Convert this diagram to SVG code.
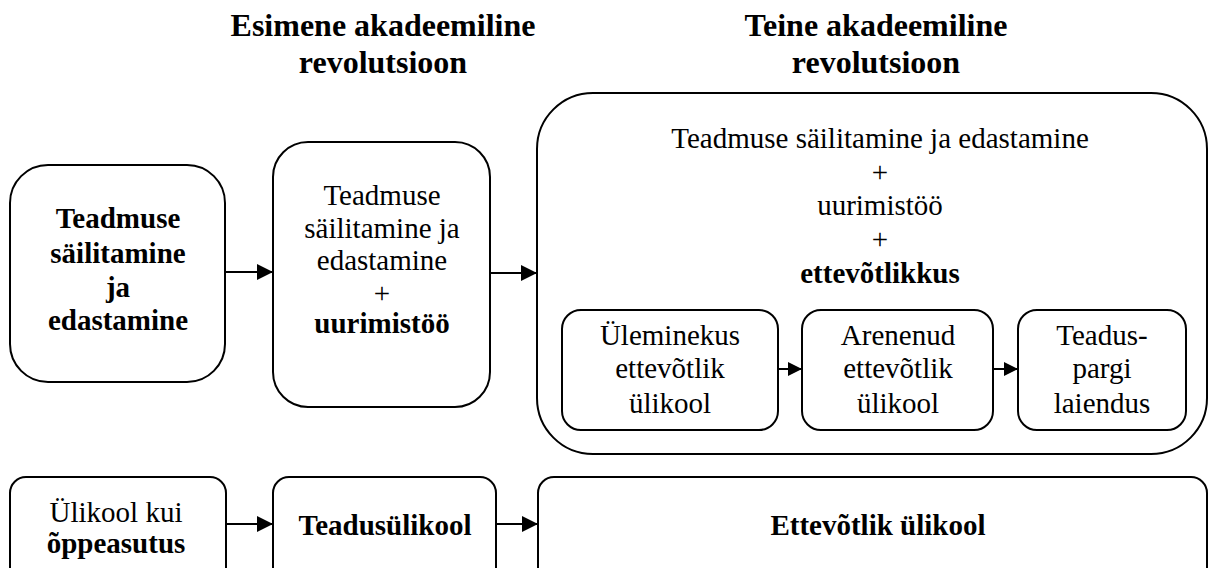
<svg xmlns="http://www.w3.org/2000/svg" width="1208" height="568" viewBox="0 0 1208 568">
  <style>
    .box { fill: #ffffff; stroke: #000000; stroke-width: 2; }
    .txt { font-family: "Liberation Serif", "Times New Roman", serif; font-size: 29px; fill: #000000; text-anchor: middle; }
    .b { font-weight: bold; }
    .title { font-family: "Liberation Serif", "Times New Roman", serif; font-size: 32px; font-weight: bold; fill: #000000; text-anchor: middle; }
    .conn { stroke: #000000; stroke-width: 2; fill: none; }
  </style>
  <defs>
    <marker id="arrow" markerUnits="userSpaceOnUse" markerWidth="16" markerHeight="16" viewBox="0 0 16 16" refX="16" refY="8" orient="auto">
      <path d="M0,0 L16,8 L0,16 Z" fill="#000000"/>
    </marker>
    <marker id="arrowSmall" markerUnits="userSpaceOnUse" markerWidth="14" markerHeight="14" viewBox="0 0 14 14" refX="14" refY="7" orient="auto">
      <path d="M0,0 L14,7 L0,14 Z" fill="#000000"/>
    </marker>
  </defs>

  <rect width="1208" height="568" fill="#ffffff"/>

  <!-- column headings -->
  <g id="heading-first">
    <text class="title" x="383" y="36">Esimene akadeemiline</text>
    <text class="title" x="383" y="73">revolutsioon</text>
  </g>
  <g id="heading-second">
    <text class="title" x="876" y="36">Teine akadeemiline</text>
    <text class="title" x="876" y="73">revolutsioon</text>
  </g>

  <!-- upper row -->
  <g id="node-knowledge">
    <rect class="box" x="10" y="165" width="215" height="217" rx="38" ry="38"/>
    <text class="txt b" x="118" y="228">Teadmuse</text>
    <text class="txt b" x="118" y="263">säilitamine</text>
    <text class="txt b" x="118" y="297">ja</text>
    <text class="txt b" x="118" y="330">edastamine</text>
  </g>

  <g id="node-research">
    <rect class="box" x="273" y="142" width="217" height="265" rx="35" ry="35"/>
    <text class="txt" x="382" y="205">Teadmuse</text>
    <text class="txt" x="382" y="238">säilitamine ja</text>
    <text class="txt" x="382" y="270">edastamine</text>
    <text class="txt" x="382" y="303">+</text>
    <text class="txt b" x="382" y="333">uurimistöö</text>
  </g>

  <g id="node-entrepreneurial">
    <rect class="box" x="537" y="93" width="670" height="361" rx="56" ry="56"/>
    <text class="txt" x="880" y="148">Teadmuse säilitamine ja edastamine</text>
    <text class="txt" x="880" y="182">+</text>
    <text class="txt" x="880" y="215">uurimistöö</text>
    <text class="txt" x="880" y="249">+</text>
    <text class="txt b" x="880" y="283">ettevõtlikkus</text>
  </g>

  <g id="node-transition">
    <rect class="box" x="562" y="310" width="216" height="120" rx="19" ry="19"/>
    <text class="txt" x="670" y="345">Üleminekus</text>
    <text class="txt" x="670" y="378">ettevõtlik</text>
    <text class="txt" x="670" y="413">ülikool</text>
  </g>

  <g id="node-advanced">
    <rect class="box" x="802" y="310" width="191" height="120" rx="19" ry="19"/>
    <text class="txt" x="898" y="345">Arenenud</text>
    <text class="txt" x="898" y="378">ettevõtlik</text>
    <text class="txt" x="898" y="413">ülikool</text>
  </g>

  <g id="node-sciencepark">
    <rect class="box" x="1018" y="310" width="168" height="120" rx="19" ry="19"/>
    <text class="txt" x="1102" y="345">Teadus-</text>
    <text class="txt" x="1102" y="378">pargi</text>
    <text class="txt" x="1102" y="413">laiendus</text>
  </g>

  <!-- lower row -->
  <g id="node-teaching">
    <rect class="box" x="10" y="477" width="216" height="110" rx="16" ry="16"/>
    <text class="txt" x="116" y="522">Ülikool kui</text>
    <text class="txt b" x="116" y="553">õppeasutus</text>
  </g>

  <g id="node-researchuni">
    <rect class="box" x="273" y="477" width="223" height="110" rx="16" ry="16"/>
    <text class="txt b" x="385" y="535">Teadusülikool</text>
  </g>

  <g id="node-entrepreneurialuni">
    <rect class="box" x="538" y="477" width="669" height="110" rx="16" ry="16"/>
    <text class="txt b" x="878" y="535">Ettevõtlik ülikool</text>
  </g>

  <!-- connectors -->
  <g id="connectors">
    <line class="conn" x1="225" y1="272" x2="273" y2="272" marker-end="url(#arrow)"/>
    <line class="conn" x1="490" y1="273" x2="537" y2="273" marker-end="url(#arrow)"/>
    <line class="conn" x1="778" y1="369" x2="802" y2="369" marker-end="url(#arrowSmall)"/>
    <line class="conn" x1="993" y1="369" x2="1018" y2="369" marker-end="url(#arrowSmall)"/>
    <line class="conn" x1="226" y1="524" x2="273" y2="524" marker-end="url(#arrow)"/>
    <line class="conn" x1="496" y1="524" x2="538" y2="524" marker-end="url(#arrow)"/>
  </g>
</svg>
